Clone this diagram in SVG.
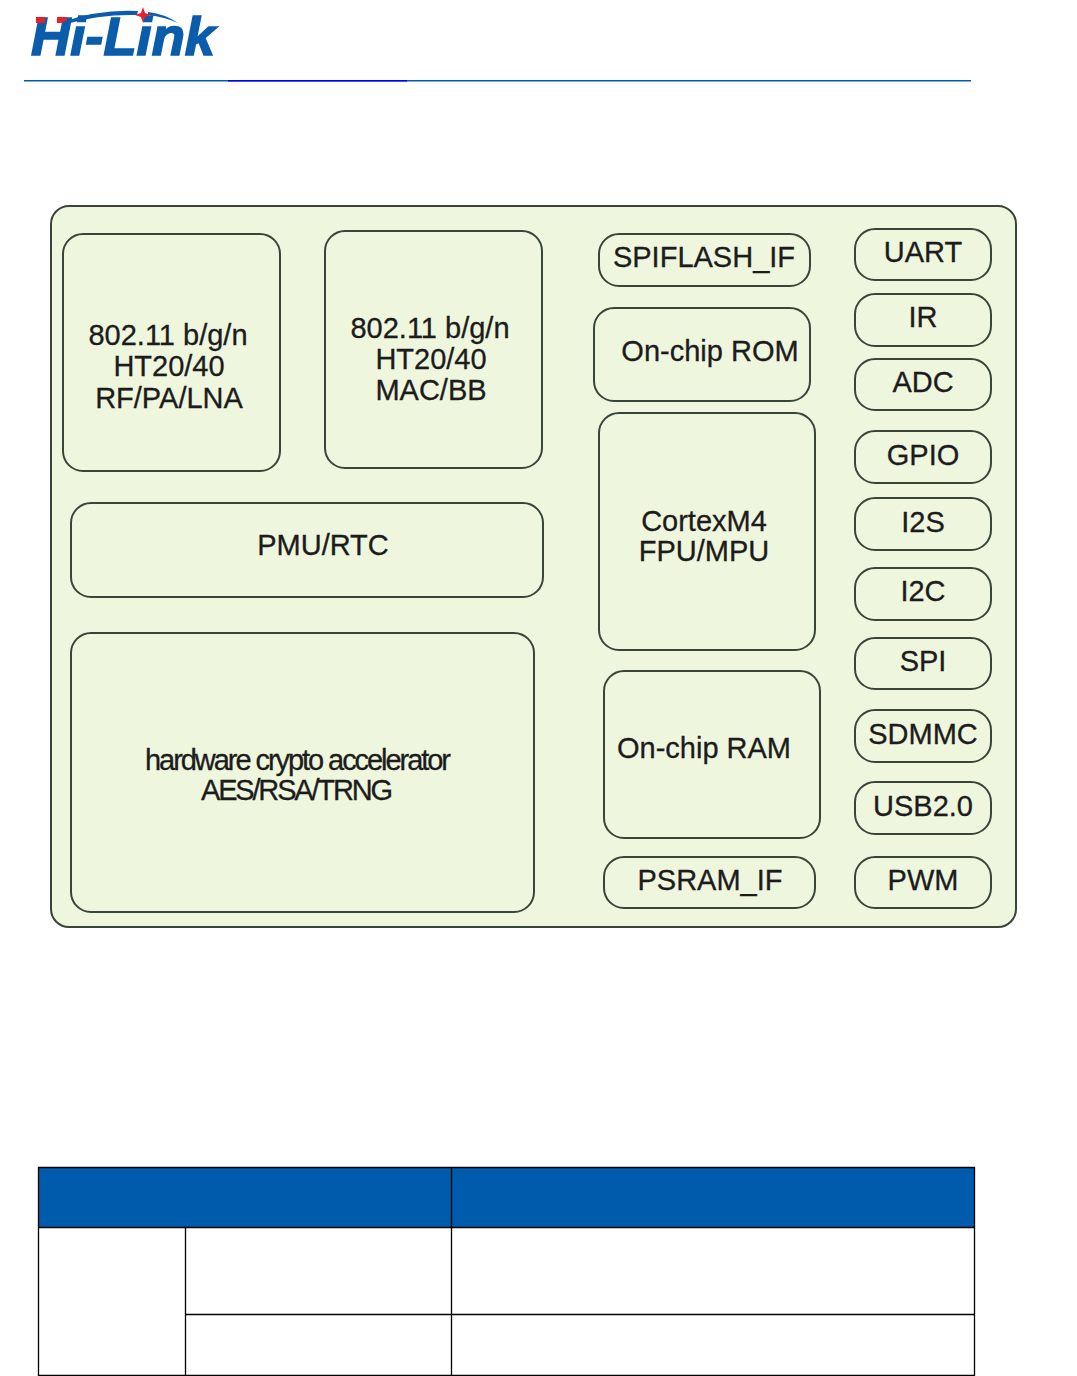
<svg xmlns="http://www.w3.org/2000/svg" width="1077" height="1376" viewBox="0 0 1077 1376">
<style>
.b{fill:#eff6de;stroke:#3a453a;stroke-width:2}
.t{font-family:"Liberation Sans",Arial,sans-serif;font-size:29px;fill:#1c1c1c;stroke:#1c1c1c;stroke-width:.3;text-anchor:middle}
.l{stroke:#000;stroke-width:1.3;fill:none}
</style>
<rect width="1077" height="1376" fill="#fff"/>
<g id="logo">
<text x="31" y="55" font-family="Liberation Sans,Arial,sans-serif" font-size="54" font-weight="700" font-style="italic" fill="#0b5cab" stroke="#0b5cab" stroke-width="1.6" textLength="184" lengthAdjust="spacingAndGlyphs">Hi-Link</text>
<rect x="36" y="17" width="9" height="6" fill="#e8202a"/>
<rect x="57" y="17" width="10" height="6" fill="#e8202a"/>
<path d="M62 22Q100 9 138 11L137 15Q100 14 66 24Z" fill="#0b5cab"/>
<path d="M148 12Q165 14 178 23Q165 17 148 15Z" fill="#0b5cab"/>
<path d="M143 7L145 13L151 15L145 17L143 23L141 17L135 15L141 13Z" fill="#e8202a"/>
</g>
<g id="header-rule">
<rect x="24" y="80" width="947" height="1.5" fill="#005bac"/>
<rect x="228" y="80" width="179" height="1.5" fill="#0000f0"/>
</g>
<g id="chip"><rect class="b" x="51" y="206" width="965" height="721" rx="18"/></g>
<g id="rf"><rect class="b" x="63" y="234" width="217" height="237" rx="20"/><text class="t" x="168" y="345">802.11 b/g/n</text><text class="t" x="169" y="376">HT20/40</text><text class="t" x="169" y="408">RF/PA/LNA</text></g>
<g id="mac"><rect class="b" x="325" y="231" width="217" height="237" rx="20"/><text class="t" x="430" y="338">802.11 b/g/n</text><text class="t" x="431" y="369">HT20/40</text><text class="t" x="431" y="400">MAC/BB</text></g>
<g id="pmu"><rect class="b" x="71" y="503" width="472" height="94" rx="20"/><text class="t" x="323" y="555">PMU/RTC</text></g>
<g id="crypto"><rect class="b" x="71" y="633" width="463" height="279" rx="20"/><text class="t" x="298" y="770" textLength="306">hardware crypto accelerator</text><text class="t" x="297" y="800" textLength="192">AES/RSA/TRNG</text></g>
<g id="spiflash"><rect class="b" x="599" y="234" width="211" height="52" rx="20"/><text class="t" x="704" y="267">SPIFLASH_IF</text></g>
<g id="rom"><rect class="b" x="594" y="308" width="216" height="93" rx="20"/><text class="t" x="710" y="361">On-chip ROM</text></g>
<g id="cortex"><rect class="b" x="599" y="413" width="216" height="237" rx="20"/><text class="t" x="704" y="531">CortexM4</text><text class="t" x="704" y="561">FPU/MPU</text></g>
<g id="ram"><rect class="b" x="604" y="671" width="216" height="167" rx="20"/><text class="t" x="704" y="758">On-chip RAM</text></g>
<g id="psram"><rect class="b" x="604" y="857" width="211" height="51" rx="20"/><text class="t" x="710" y="890">PSRAM_IF</text></g>
<g id="uart"><rect class="b" x="855" y="229" width="136" height="51" rx="20"/><text class="t" x="923" y="262">UART</text></g>
<g id="ir"><rect class="b" x="855" y="294" width="136" height="52" rx="20"/><text class="t" x="923" y="327">IR</text></g>
<g id="adc"><rect class="b" x="855" y="359" width="136" height="51" rx="20"/><text class="t" x="923" y="392">ADC</text></g>
<g id="gpio"><rect class="b" x="855" y="431" width="136" height="52" rx="20"/><text class="t" x="923" y="465">GPIO</text></g>
<g id="i2s"><rect class="b" x="855" y="498" width="136" height="52" rx="20"/><text class="t" x="923" y="532">I2S</text></g>
<g id="i2c"><rect class="b" x="855" y="568" width="136" height="52" rx="20"/><text class="t" x="923" y="601">I2C</text></g>
<g id="spi"><rect class="b" x="855" y="638" width="136" height="51" rx="20"/><text class="t" x="923" y="671">SPI</text></g>
<g id="sdmmc"><rect class="b" x="855" y="710" width="136" height="52" rx="20"/><text class="t" x="923" y="744">SDMMC</text></g>
<g id="usb"><rect class="b" x="855" y="782" width="136" height="52" rx="20"/><text class="t" x="923" y="816">USB2.0</text></g>
<g id="pwm"><rect class="b" x="855" y="857" width="136" height="51" rx="20"/><text class="t" x="923" y="890">PWM</text></g>
<g id="table">
<rect x="38.5" y="1167.5" width="936" height="60" fill="#005bac"/>
<path class="l" d="M38.5 1167.5H974.5V1375.5H38.5ZM38.5 1227.5H974.5M185.5 1314.5H974.5M185.5 1227.5V1375.5M451.5 1167.5V1375.5"/>
</g>
</svg>
